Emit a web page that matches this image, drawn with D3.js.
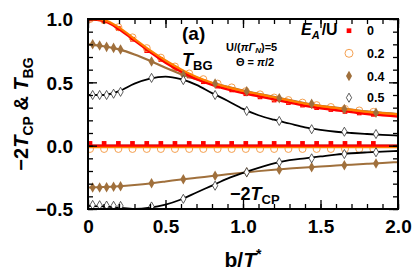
<!DOCTYPE html>
<html>
<head>
<meta charset="utf-8">
<script src="https://d3js.org/d3.v7.min.js"></script>
<style>
  body { margin: 0; background: #fff; }
  svg text { font-family: "Liberation Sans", Arial, sans-serif; font-weight: bold; fill: #000; }
</style>
</head>
<body>
<svg id="chart" width="415" height="280"></svg>
<script>
// ---- data ----
var legendLabels = ["0", "0.2", "0.4", "0.5"];
var xTicks = [0, 0.5, 1.0, 1.5, 2.0];
var yTicks = [-0.5, 0.0, 0.5, 1.0];

// dense x grid of the numerical points (E_A/U = 0 and 0.2)
var gridX = [0.013, 0.104, 0.196, 0.287, 0.379, 0.47, 0.561, 0.653, 0.744, 0.836, 0.927,
             1.018, 1.11, 1.201, 1.293, 1.384, 1.475, 1.567, 1.658, 1.75, 1.841];
// sparse x grid (E_A/U = 0.4 and 0.5)
var sparseX = [0.03, 0.075, 0.12, 0.165, 0.21, 0.41, 0.615, 0.82, 1.024, 1.234, 1.443, 1.654, 1.858];

// markers, T_BG
var bg0pts  = [1.0, 0.985, 0.925, 0.84, 0.75, 0.68, 0.61, 0.55, 0.505, 0.47, 0.44,
               0.41, 0.385, 0.36, 0.34, 0.32, 0.30, 0.285, 0.27, 0.258, 0.247];
var bg02pts = [1.0, 0.99, 0.935, 0.855, 0.77, 0.695, 0.625, 0.57, 0.525, 0.49, 0.46,
               0.43, 0.405, 0.38, 0.36, 0.34, 0.32, 0.305, 0.29, 0.278, 0.267];
var bg04pts = [0.80, 0.79, 0.78, 0.772, 0.76, 0.665, 0.558, 0.49, 0.43, 0.375, 0.33, 0.29, 0.26];
var bg05pts = [0.40, 0.40, 0.40, 0.41, 0.425, 0.535, 0.518, 0.40, 0.274, 0.195, 0.13, 0.11, 0.092];
// markers, -2 T_CP
var cp0pts  = [0.018, 0.018, 0.018, 0.018, 0.018, 0.018, 0.018, 0.018, 0.018, 0.018, 0.018,
               0.018, 0.018, 0.018, 0.018, 0.018, 0.018, 0.018, 0.018, 0.018, 0.018];
var cp02pts = [-0.026, -0.026, -0.026, -0.026, -0.026, -0.026, -0.026, -0.026, -0.026, -0.026, -0.026,
               -0.026, -0.026, -0.026, -0.026, -0.026, -0.026, -0.026, -0.026, -0.026, -0.026];
var cp04pts = [-0.33, -0.33, -0.328, -0.325, -0.32, -0.297, -0.265, -0.237, -0.21, -0.19, -0.17, -0.155, -0.14];
var cp05pts = [-0.468, -0.47, -0.473, -0.475, -0.476, -0.48, -0.42, -0.316, -0.21, -0.131, -0.10, -0.066, -0.052];

// smooth curves
var curveX  = [0, 0.1, 0.2, 0.3, 0.4, 0.5, 0.6, 0.7, 0.8, 0.9, 1.0,
               1.1, 1.2, 1.3, 1.4, 1.5, 1.6, 1.7, 1.8, 1.9, 2.0];
var bg0line  = [1.0, 0.985, 0.92, 0.83, 0.74, 0.655, 0.585, 0.525, 0.48, 0.445, 0.415,
                0.39, 0.365, 0.34, 0.315, 0.295, 0.28, 0.265, 0.25, 0.24, 0.23];
var bg02line = [1.0, 0.99, 0.93, 0.84, 0.75, 0.67, 0.60, 0.54, 0.495, 0.46, 0.43,
                0.405, 0.38, 0.355, 0.33, 0.31, 0.295, 0.28, 0.265, 0.255, 0.245];
var bg04line = [0.80, 0.785, 0.76, 0.72, 0.67, 0.615, 0.565, 0.525, 0.495, 0.465, 0.435,
                0.41, 0.385, 0.36, 0.335, 0.315, 0.30, 0.285, 0.27, 0.26, 0.25];
var bg05line = [0.40, 0.40, 0.43, 0.49, 0.53, 0.545, 0.525, 0.48, 0.415, 0.355, 0.29,
                0.24, 0.205, 0.175, 0.145, 0.125, 0.11, 0.10, 0.092, 0.085, 0.08];
var cp0line  = [0, 0, 0, 0, 0, 0, 0, 0, 0, 0, 0, 0, 0, 0, 0, 0, 0, 0, 0, 0, 0];
var cp02line = [-0.012, -0.012, -0.012, -0.012, -0.012, -0.012, -0.012, -0.012, -0.012, -0.012, -0.012,
                -0.012, -0.012, -0.012, -0.012, -0.012, -0.012, -0.012, -0.012, -0.012, -0.012];
var cp04line = [-0.33, -0.327, -0.32, -0.31, -0.298, -0.283, -0.267, -0.253, -0.24, -0.226, -0.213,
                -0.201, -0.19, -0.181, -0.172, -0.164, -0.157, -0.15, -0.143, -0.136, -0.13];
var cp05line = [-0.475, -0.48, -0.49, -0.50, -0.49, -0.465, -0.425, -0.37, -0.315, -0.26, -0.215,
                -0.175, -0.14, -0.115, -0.10, -0.085, -0.07, -0.06, -0.053, -0.047, -0.042];

var colors = ["#ff0000", "#ff8000", "#a0703c", "#000000"];
var circleColor = "#f5a050";

// ---- layout ----
var svg = d3.select("#chart");
var L = 88, R = 398, T = 19, B = 209;
var x = d3.scaleLinear().domain([0, 2]).range([L, R]);
var y = d3.scaleLinear().domain([-0.5, 1]).range([B, T]);

svg.append("defs").append("clipPath").attr("id", "clip")
  .append("rect").attr("x", L).attr("y", T).attr("width", R - L).attr("height", B - T);

var plot = svg.append("g").attr("clip-path", "url(#clip)");

// zero line
plot.append("line").attr("x1", L).attr("x2", R).attr("y1", y(0)).attr("y2", y(0))
  .attr("stroke", "#000").attr("stroke-width", 2);

function pairs(xs, ys) { return xs.map(function (d, i) { return [d, ys[i]]; }); }

var line = d3.line().x(function (d) { return x(d[0]); }).y(function (d) { return y(d[1]); })
  .curve(d3.curveMonotoneX);

var sq = d3.symbol().type(d3.symbolSquare).size(22);
var dia = d3.symbol().type(d3.symbolDiamond).size(32);
var odia = d3.symbol().type(d3.symbolDiamond).size(24);

// red squares
[bg0pts, cp0pts].forEach(function (vals) {
  plot.selectAll(null).data(pairs(gridX, vals)).enter().append("path")
    .attr("d", sq).attr("transform", function (d) { return "translate(" + x(d[0]) + "," + y(d[1]) + ")"; })
    .attr("fill", colors[0]);
});
// orange circles
[bg02pts, cp02pts].forEach(function (vals) {
  plot.selectAll(null).data(pairs(gridX, vals)).enter().append("circle")
    .attr("cx", function (d) { return x(d[0]); }).attr("cy", function (d) { return y(d[1]); })
    .attr("r", 3.5).attr("fill", "none").attr("stroke", circleColor).attr("stroke-width", 1);
});

// curves
var curves = [
  [cp04line, 2, 2], [cp05line, 3, 1.8], [bg04line, 2, 2.2], [bg05line, 3, 1.8],
  [cp02line, 1, 2.2], [bg02line, 1, 2.8], [cp0line, 0, 2.2], [bg0line, 0, 2.4]
];
curves.forEach(function (c) {
  plot.append("path").datum(pairs(curveX, c[0])).attr("d", line)
    .attr("fill", "none").attr("stroke", colors[c[1]]).attr("stroke-width", c[2]);
});
plot.append("path").datum(pairs(curveX, bg02line)).attr("d", line)
  .attr("fill", "none").attr("stroke", colors[1]).attr("stroke-width", 1.6).attr("opacity", 0.9);

// brown diamonds
[bg04pts, cp04pts].forEach(function (vals) {
  plot.selectAll(null).data(pairs(sparseX, vals)).enter().append("path")
    .attr("d", dia).attr("transform", function (d) { return "translate(" + x(d[0]) + "," + y(d[1]) + ")"; })
    .attr("fill", colors[2]);
});
// black open diamonds
[bg05pts, cp05pts].forEach(function (vals) {
  plot.selectAll(null).data(pairs(sparseX, vals)).enter().append("path")
    .attr("d", odia)
    .attr("transform", function (d) { return "translate(" + x(d[0]) + "," + y(d[1]) + ")"; })
    .attr("fill", "#fff").attr("stroke", "#333").attr("stroke-width", 0.8);
});

// ---- axes (ticks inside, mirrored) ----
var minorX = d3.range(0, 2.01, 0.1).map(function (v) { return +v.toFixed(2); });
var minorY = d3.range(-0.5, 1.01, 0.1).map(function (v) { return +v.toFixed(2); });

function drawAxis(axis, tr) {
  var g = svg.append("g").attr("transform", tr).call(axis);
  g.select(".domain").remove();
  g.selectAll("line").attr("stroke", "#000").attr("stroke-width", 1.3);
  return g;
}
drawAxis(d3.axisBottom(x).tickValues(minorX).tickSize(-5).tickFormat(""), "translate(0," + B + ")");
drawAxis(d3.axisTop(x).tickValues(minorX).tickSize(-5).tickFormat(""), "translate(0," + T + ")");
drawAxis(d3.axisLeft(y).tickValues(minorY).tickSize(-5).tickFormat(""), "translate(" + L + ",0)");
drawAxis(d3.axisRight(y).tickValues(minorY).tickSize(-5).tickFormat(""), "translate(" + R + ",0)");

var gx = drawAxis(d3.axisBottom(x).tickValues(xTicks).tickSize(-9).tickPadding(11)
  .tickFormat(function (d) { return d === 0 ? "0" : d3.format(".1f")(d); }), "translate(0," + B + ")");
drawAxis(d3.axisTop(x).tickValues(xTicks).tickSize(-9).tickFormat(""), "translate(0," + T + ")");
var gy = drawAxis(d3.axisLeft(y).tickValues(yTicks).tickSize(-9).tickPadding(15)
  .tickFormat(function (d) { return d3.format(".1f")(d).replace("-", "\u2212"); }), "translate(" + L + ",0)");
drawAxis(d3.axisRight(y).tickValues(yTicks).tickSize(-9).tickFormat(""), "translate(" + R + ",0)");

gx.selectAll("text").attr("font-size", 19).attr("font-family", "Liberation Sans, Arial, sans-serif")
  .attr("font-weight", "bold").attr("fill", "#000");
gy.selectAll("text").attr("font-size", 19).attr("font-family", "Liberation Sans, Arial, sans-serif")
  .attr("font-weight", "bold").attr("fill", "#000").attr("dy", "0.36em");

svg.append("rect").attr("x", L).attr("y", T).attr("width", R - L).attr("height", B - T)
  .attr("fill", "none").attr("stroke", "#000").attr("stroke-width", 2);

// ---- titles ----
var xt = svg.append("text").attr("x", x(1.0)).attr("y", 267).attr("text-anchor", "middle").attr("font-size", 21);
xt.append("tspan").text("b/");
xt.append("tspan").attr("font-style", "italic").text("T");
xt.append("tspan").attr("font-size", 14).attr("dy", -8).text("*");

var yt = svg.append("text").attr("transform", "translate(28,114) rotate(-90)")
  .attr("text-anchor", "middle").attr("font-size", 20);
yt.append("tspan").text("\u22122");
yt.append("tspan").attr("font-style", "italic").text("T");
yt.append("tspan").attr("font-size", 14).attr("dy", 5).text("CP");
yt.append("tspan").attr("dy", -5).text(" & ");
yt.append("tspan").attr("font-style", "italic").text("T");
yt.append("tspan").attr("font-size", 14).attr("dy", 5).text("BG");

// ---- annotations ----
svg.append("text").attr("x", 182).attr("y", 40).attr("font-size", 19).text("(a)");

var tbg = svg.append("text").attr("x", 182).attr("y", 66).attr("font-size", 18);
tbg.append("tspan").attr("font-style", "italic").text("T");
tbg.append("tspan").attr("font-size", 13).attr("dy", 4).text("BG");

var u = svg.append("text").attr("x", 226).attr("y", 51).attr("font-size", 11);
u.append("tspan").text("U/(");
u.append("tspan").attr("font-style", "italic").text("\u03c0\u0393");
u.append("tspan").attr("font-size", 8).attr("dy", 2).attr("font-style", "italic").text("N");
u.append("tspan").attr("dy", -2).text(")=5");
var th = svg.append("text").attr("x", 236).attr("y", 66).attr("font-size", 11);
th.append("tspan").text("\u0398 = ");
th.append("tspan").attr("font-style", "italic").text("\u03c0");
th.append("tspan").text("/2");

var tcp = svg.append("text").attr("x", 230).attr("y", 200).attr("font-size", 18);
tcp.append("tspan").text("\u22122");
tcp.append("tspan").attr("font-style", "italic").text("T");
tcp.append("tspan").attr("font-size", 13).attr("dy", 4).text("CP");

// ---- legend ----
var lt = svg.append("text").attr("x", 301).attr("y", 35).attr("font-size", 16);
lt.append("tspan").attr("font-style", "italic").text("E");
lt.append("tspan").attr("font-style", "italic").attr("font-size", 11).attr("dy", 4).text("A");
lt.append("tspan").attr("dy", -4).attr("dx", 2).text("/U");

var legY = [30.7, 53.3, 76, 97.7];
var lg = svg.append("g");
lg.append("path").attr("d", sq).attr("transform", "translate(349," + legY[0] + ")").attr("fill", colors[0]);
lg.append("circle").attr("cx", 349).attr("cy", legY[1]).attr("r", 4).attr("fill", "none")
  .attr("stroke", circleColor).attr("stroke-width", 1);
lg.append("path").attr("d", dia).attr("transform", "translate(349," + legY[2] + ")").attr("fill", colors[2]);
lg.append("path").attr("d", odia)
  .attr("transform", "translate(349," + legY[3] + ")").attr("fill", "#fff").attr("stroke", "#333").attr("stroke-width", 0.8);
lg.selectAll("text").data(legendLabels).enter().append("text")
  .attr("x", 367).attr("y", function (d, i) { return legY[i]; }).attr("dy", "0.36em")
  .attr("font-size", 12.5).text(function (d) { return d; });
</script>
</body>
</html>
